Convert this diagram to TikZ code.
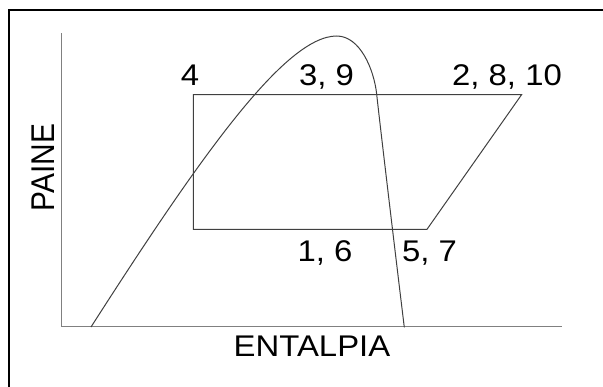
\documentclass[tikz,border=0pt]{standalone}
\usepackage{fontspec}
\setmainfont{Liberation Sans}
\usetikzlibrary{positioning}

\begin{document}
\begin{tikzpicture}[x=1bp, y=1bp,
    lbl/.style={font=\fontsize{30}{32}\selectfont, inner sep=0pt, anchor=base, xscale=1.1},
    axisline/.style={draw=black!50, line width=1.3bp},
    cycleline/.style={draw=black!75, line width=1bp}]
    \useasboundingbox (0,0) rectangle (603,386);

    % Frame
    \draw[line width=2bp] (9,-2) -- (9,375.5) -- (605,375.5);

    % Axes
    \coordinate (origin) at (61.5,59.3);
    \coordinate (ytop) at (61.5,353);
    \coordinate (xend) at (562,59.3);
    \draw[axisline] (ytop) -- (origin) -- (xend);
    \node[lbl, anchor=center, rotate=90] (paine) at (43,218.5) {PAINE};
    \node[lbl] (entalpia) at (312,30) {ENTALPIA};

    % Saturation dome
    \coordinate (domeL) at (91,59);
    \coordinate (domeTop) at (336.7,350);
    \coordinate (domeR) at (404.3,58.7);
    \draw[cycleline] (domeL) .. controls (200,229) and (285,350) .. (domeTop)
        .. controls (360,350) and (374,316.7) .. (376.7,291.7)
        .. controls (379.5,265) and (398,110) .. (domeR);

    % Cycle
    \coordinate (p4) at (193.3,291.5);
    \coordinate (p2) at (521.7,291.5);
    \coordinate (p5) at (427,156.7);
    \coordinate (p1) at (193.3,156.7);
    \draw[cycleline] (p1) -- (p4) -- (p2) -- (p5) -- cycle;

    % State labels
    \node[lbl] (l4) at (190,301) {4};
    \node[lbl] (l39) at (326.5,301) {3, 9};
    \node[lbl] (l2810) at (507,301) {2, 8, 10};
    \node[lbl] (l16) at (325,125) {1, 6};
    \node[lbl] (l57) at (429.5,125) {5, 7};
\end{tikzpicture}
\end{document}
